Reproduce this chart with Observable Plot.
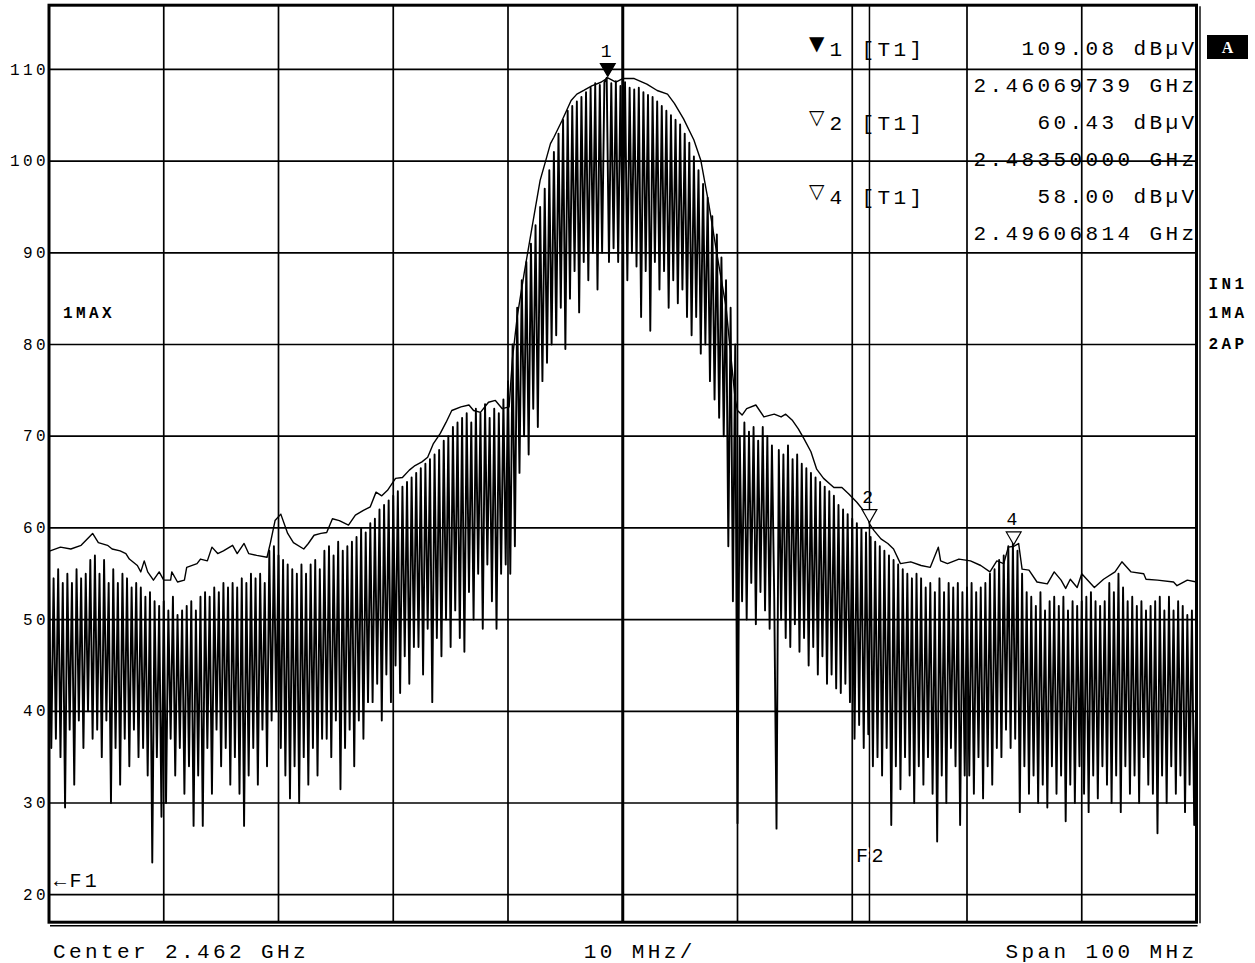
<!DOCTYPE html>
<html>
<head>
<meta charset="utf-8">
<script src="https://cdn.jsdelivr.net/npm/d3@7"></script>
<script src="https://cdn.jsdelivr.net/npm/@observablehq/plot@0.6"></script>
<style>
  html, body { margin: 0; padding: 0; background: #fff; }
</style>
</head>
<body>
<div id="chart"></div>
<script>
// ---------- data ----------
// Trace with rapid spikes: 501 sweep points, 2412..2512 MHz (0.2 MHz bins)
const sweepStartMHz = 2412;
const sweepStepMHz = 0.2;
const spikyTraceDb = [
  55, 36, 54.5, 37, 55.5, 35, 54, 29.5, 55, 38, 54, 32, 55.5, 39, 54.5, 36, 55, 40, 56.5, 37,
  57, 38, 55, 35, 56.5, 39, 54, 30, 55.5, 36, 54, 32, 55, 37, 54.5, 34, 53.5, 38, 54, 35,
  53.5, 36, 52.5, 33, 53, 23.5, 52, 35, 51.5, 28.5, 52, 30, 51, 37, 52.5, 33, 50.5, 36, 51, 31,
  51.5, 34, 52, 27.5, 51, 33, 52.5, 27.5, 53, 36, 52.5, 31, 53.5, 38, 53, 34, 54, 36, 53.5, 32,
  54, 35, 53.5, 31, 54.5, 27.5, 54, 33, 55, 36, 54.5, 32, 55, 38, 54, 34, 57.5, 39, 58, 40,
  57, 36, 56.5, 33, 56, 30.5, 55.5, 34, 55, 30, 56, 35, 55, 32, 56, 36, 56.5, 33, 55.5, 37,
  57.5, 37, 58, 35, 57, 39, 58.5, 31.5, 57.5, 36, 58, 38, 58.5, 34, 59, 39, 60, 37, 59.5, 41,
  60.5, 41, 61, 43, 62, 39, 62.5, 44, 63, 41, 63.5, 45, 64, 42, 64.5, 46, 65, 43, 65.5, 47,
  66, 47, 66.5, 44, 67, 49, 67.5, 41, 68, 48, 68.5, 46, 69.5, 50, 70, 47, 71, 51, 71.5, 48,
  72, 46.5, 72.5, 53, 71.5, 50, 73, 55, 72.5, 49, 73.5, 56, 72, 52, 73, 49, 72.5, 55, 74, 56,
  76, 55, 80, 58, 84, 66, 87, 70, 89, 68, 91, 73, 93, 71, 95, 76, 97, 78, 99, 80,
  101, 81, 103, 84, 104.5, 79.5, 105.5, 85, 106, 88, 106.5, 83.5, 107, 89, 107.5, 87, 108, 90, 108.5, 86,
  108.3, 90, 108.6, 109.08, 89, 108.5, 90.5, 108.7, 89, 108.2, 91, 108.6, 87, 108, 90, 107.8, 88.5, 108, 83, 107.5,
  88, 107.2, 81.5, 107, 89, 106.5, 86, 106, 88, 105.5, 84, 105, 87, 104.5, 84.5, 104, 86, 103, 83, 102,
  81, 100.5, 83, 99, 79, 97.5, 80, 96, 76, 94, 74, 92, 72, 89.5, 70, 87, 58, 84, 52, 80,
  27.8, 70, 52, 71.5, 50, 70.5, 54, 71, 49.5, 69.5, 53, 71, 51, 70, 49, 69, 52.5, 27.2, 68.5, 50,
  68, 48, 69, 47, 67.5, 49.5, 68, 46.5, 67, 48, 66.5, 45, 66, 47, 65.5, 44, 65, 46, 64.5, 43,
  64, 44, 63.5, 42.5, 62.5, 42, 62, 43, 61.5, 41, 61, 37, 60.5, 38.5, 60, 36, 59.5, 37.5, 59, 34,
  58.5, 35, 58, 33, 57.5, 36, 57, 27.6, 56.5, 34, 56, 31.5, 55.5, 35, 55, 33, 54.5, 30, 55, 34,
  54.5, 32, 53.5, 35, 54, 31, 53, 25.8, 54.5, 33, 53, 30, 54, 36, 53.5, 34, 54, 27.6, 53, 33,
  53.5, 33, 54, 31, 53, 35, 53.5, 30.5, 54, 34, 55, 32, 55.5, 36, 56.5, 35, 57, 38, 58, 36,
  58.5, 37, 57.5, 29, 55, 34, 53, 31, 52.5, 33, 51.5, 30, 53, 32, 51, 29.5, 52, 34, 52.5, 31,
  51.5, 33, 52.5, 28, 51, 32, 52, 30, 51.5, 34, 52, 31, 52.5, 29, 53, 33, 52, 30.5, 51.5, 34,
  52, 32, 54, 30, 53, 33, 55, 29, 53.5, 34, 52, 31, 52.5, 33, 51.5, 30, 52, 35, 51, 32,
  51.5, 31, 52, 26.7, 52.5, 33, 51, 30, 52.5, 34, 51, 31, 52, 33, 51.5, 29, 50.5, 32, 51, 27.6, 44
];

// Smooth upper (max hold) trace: frequency (MHz) and level (dBµV)
const envelopeMHz = [
  2412.1, 2413.0, 2413.9, 2414.8, 2415.8, 2416.3, 2417.1, 2417.5, 2418.2, 2418.7, 2419.0, 2419.7, 2420.0,
  2420.3, 2420.6, 2421.1, 2421.6, 2422.0, 2422.6, 2422.7, 2423.2, 2423.8, 2424.0, 2424.9, 2425.2, 2425.8,
  2426.2, 2426.7, 2427.2, 2428.0, 2428.4, 2429.0, 2429.4, 2430.1, 2431.0, 2431.3, 2431.7, 2432.2,
  2432.8, 2433.3, 2434.2, 2434.6, 2435.1, 2435.7, 2436.2, 2436.7, 2437.3, 2438.1, 2438.7, 2439.4, 2440.0,
  2440.5, 2441.0, 2441.5, 2442.2, 2442.8, 2443.4, 2443.9, 2444.5, 2445.0, 2445.5, 2446.1, 2446.6, 2447.1,
  2447.9, 2448.6, 2449.0, 2449.6, 2450.3, 2450.9, 2451.5, 2452.1, 2452.25, 2452.4, 2452.8, 2453.4, 2454.0,
  2454.4, 2454.8, 2455.3, 2455.7, 2456.0, 2456.7, 2457.5, 2458.0, 2458.6, 2459.3, 2460.1, 2460.7, 2461.4,
  2462.0, 2463.0, 2464.1, 2465.0, 2465.9, 2466.5, 2467.3, 2468.2, 2468.8, 2469.5, 2470.2, 2471.0, 2471.4,
  2471.8, 2472.0, 2472.4, 2472.8, 2473.6, 2474.3, 2475.2, 2475.8, 2476.2, 2476.8, 2477.3, 2477.8, 2478.4,
  2478.9, 2479.5, 2480.4, 2481.1, 2481.7, 2482.4, 2483.3, 2483.5, 2483.9, 2484.5, 2485.1, 2485.6, 2486.2,
  2487.1, 2488.0, 2488.8, 2489.5, 2489.7, 2490.3, 2491.3, 2492.3, 2493.2, 2494.0, 2494.6, 2495.2, 2495.6,
  2496.1, 2496.5, 2496.8, 2497.4, 2498.1, 2499.0, 2499.6, 2500.2, 2500.6, 2501.0, 2501.6, 2502.0, 2503.1,
  2503.9, 2504.9, 2505.5, 2506.3, 2507.4, 2507.6, 2508.6, 2510.0, 2510.3, 2511.2, 2512.0
];
const envelopeDb = [
  57.5, 57.9, 57.7, 58.1, 59.4, 58.4, 58.1, 57.7, 57.5, 57.2, 56.6, 55.9, 55.2,
  56.4, 55.2, 54.3, 55.2, 54.3, 54.3, 55.2, 54.1, 54.3, 55.7, 56.1, 56.6, 56.4,
  57.9, 57.2, 57.5, 58.1, 57.2, 58.3, 57.2, 57.0, 56.8, 58.4, 60.8, 61.5,
  59.4, 58.4, 57.7, 58.3, 59.2, 59.4, 59.5, 61.0, 60.8, 60.3, 61.4, 61.9, 62.3,
  63.9, 63.5, 64.1, 65.4, 65.5, 66.3, 66.8, 67.2, 67.7, 69.2, 70.3, 71.5, 72.8,
  73.2, 73.4, 72.8, 72.6, 73.7, 73.9, 73.0, 73.2, 76.0, 78.6, 83.0, 87.7, 92.1,
  95.0, 97.9, 100.1, 101.9, 102.6, 104.4, 106.6, 107.3, 107.7, 108.2, 108.6, 109.08, 108.6,
  109.0, 109.0, 108.4, 107.7, 107.3, 106.3, 104.6, 102.3, 100.1, 95.3, 89.9, 84.1, 79.0,
  74.0, 72.8, 72.3, 73.0, 73.4, 72.1, 72.4, 72.1, 72.4, 71.7, 70.8, 69.7, 68.3,
  66.4, 65.4, 64.4, 64.4, 63.7, 62.8, 61.4, 60.43, 59.7, 58.8, 58.3, 57.7, 56.1,
  56.3, 55.9, 55.7, 57.9, 56.4, 56.1, 56.6, 56.4, 55.9, 55.2, 56.4, 56.1, 57.9,
  58.0, 58.3, 55.5, 55.4, 54.1, 53.9, 55.2, 54.3, 53.4, 54.4, 53.5, 55.0, 53.5,
  54.4, 55.2, 56.3, 55.2, 55.0, 54.4, 54.3, 54.1, 53.7, 54.3, 54.1
];

// Markers
const markerIds = ["1", "2", "4"];
const markerMHz = [2460.69739, 2483.5, 2496.06814];
const markerDb = [109.08, 60.43, 58.00];
const markerSymbols = ["▼", "▽", "▽"];
const markerRowText = ["1 [T1]", "2 [T1]", "4 [T1]"];
const markerReadout = ["109.08 dBµV", "2.46069739 GHz", "60.43 dBµV", "2.48350000 GHz", "58.00 dBµV", "2.49606814 GHz"];

// Axes / grid
const yTicks = [20, 30, 40, 50, 60, 70, 80, 90, 100, 110];
const xGridMHz = [2422, 2432, 2442, 2452, 2472, 2482, 2492, 2502];
const centerMHz = 2462;
const f2MHz = 2483.5;
const spanMHz = [2412, 2512];
const levelRange = [17, 117];

// Texts
const bottomLeft = "Center 2.462 GHz";
const bottomMid = "10 MHz/";
const bottomRight = "Span 100 MHz";
const sideLabels = ["IN1", "1MA", "2AP"];

// ---------- build ----------
const spiky = spikyTraceDb.map((v, i) => ({f: sweepStartMHz + i * sweepStepMHz, v}));
const envelope = envelopeMHz.map((f, i) => ({f, v: envelopeDb[i]}));
const markers = markerIds.map((id, i) => ({id, f: markerMHz[i], v: markerDb[i], filled: i === 0}));

const mono = '"Liberation Mono", "DejaVu Sans Mono", monospace';
const T = (txt, opts) => Plot.text([txt], {text: d => d, lineAnchor: "middle", fill: "#000", ...opts});

const marks = [
  // grid
  Plot.ruleY(yTicks, {x1: spanMHz[0], x2: spanMHz[1], stroke: "#000", strokeWidth: 1.7}),
  Plot.ruleX(xGridMHz, {y1: levelRange[0], y2: levelRange[1], stroke: "#000", strokeWidth: 1.7}),
  Plot.ruleX([centerMHz], {y1: levelRange[0], y2: levelRange[1], stroke: "#000", strokeWidth: 3}),
  Plot.ruleX([f2MHz], {y1: levelRange[0], y2: levelRange[1], stroke: "#000", strokeWidth: 1.5}),
  // traces
  Plot.line(envelope, {x: "f", y: "v", stroke: "#000", strokeWidth: 1.4}),
  Plot.line(spiky, {x: "f", y: "v", stroke: "#000", strokeWidth: 1.9}),
  // frame (with the doubled right and bottom edge)
  Plot.frame({stroke: "#000", strokeWidth: 3}),
  Plot.ruleX([spanMHz[1]], {y1: levelRange[0], y2: levelRange[1], dx: 3.5, dy: 1.5, stroke: "#000", strokeWidth: 1.4}),
  Plot.ruleY([levelRange[0]], {x1: spanMHz[0], x2: spanMHz[1], dy: 3.5, dx: 1.5, stroke: "#000", strokeWidth: 1.4}),
  // y tick labels
  Plot.text(yTicks, {y: d => d, frameAnchor: "left", textAnchor: "end", dx: 0, text: d => `${d}`, fontSize: 16, fill: "#000"}),
  // markers
  Plot.dot(markers, {x: "f", y: "v", symbol: "triangle", rotate: 180, r: 5.5, dy: -10,
    fill: d => d.filled ? "black" : "white", stroke: "black", strokeWidth: 1.2}),
  Plot.text(markers, {x: "f", y: "v", text: "id", dy: -27, fontSize: 18, fill: "#000"}),
  // F1 / F2 labels
  T("F2", {x: f2MHz, frameAnchor: "bottom", dy: -67, dx: 2, fontSize: 20, stroke: "white", strokeWidth: 5, paintOrder: "stroke"}),
  T("←F1", {frameAnchor: "bottom-left", textAnchor: "start", dx: 5, dy: -42, fontSize: 20}),
  // bottom annotations
  T(bottomLeft, {frameAnchor: "bottom-left", textAnchor: "start", dx: 4, dy: 29, fontSize: 21}),
  T(bottomMid, {frameAnchor: "bottom", textAnchor: "start", dx: -39, dy: 29, fontSize: 21}),
  T(bottomRight, {frameAnchor: "bottom-right", textAnchor: "end", dx: 1, dy: 29, fontSize: 21}),
  // trace labels
  T("1MAX", {frameAnchor: "top-left", textAnchor: "start", dx: 14, dy: 307.3, fontSize: 16, fontWeight: "bold"}),
  ...sideLabels.map((s, k) => T(s, {frameAnchor: "top-right", textAnchor: "start", dx: 12, dy: [278.3, 307.3, 338.3][k], fontSize: 16, fontWeight: "bold"})),
  // marker table
  ...markerReadout.map((s, k) => T(s, {frameAnchor: "top-right", textAnchor: "end", dx: 1, dy: 42.8 + 37 * k, fontSize: 21})),
  ...markerRowText.map((s, k) => T(s, {frameAnchor: "top-right", textAnchor: "start", dx: -367, dy: 43.8 + 74 * k, fontSize: 21})),
  ...markerSymbols.map((s, k) => T(s, {frameAnchor: "top-right", textAnchor: "middle", dx: -378, dy: 38 + 74 * k, fontSize: 20, fontFamily: "DejaVu Sans"}))
];

const chart = Plot.plot({
  width: 1255,
  height: 963,
  marginLeft: 48.5,
  marginRight: 59,
  marginTop: 4.7,
  marginBottom: 41.3,
  x: {domain: spanMHz, axis: null},
  y: {domain: levelRange, axis: null},
  style: {fontFamily: mono, letterSpacing: "3.4px", background: "#fff", color: "#000", overflow: "visible"},
  marks
});

// "A" badge at the top right
const svg = d3.select(chart);
const badge = svg.append("g");
badge.append("rect").attr("x", 1207).attr("y", 35).attr("width", 41).attr("height", 24).attr("fill", "#000");
badge.append("text").attr("x", 1227.5).attr("y", 47).attr("dy", "0.35em").attr("text-anchor", "middle")
  .attr("fill", "#fff").attr("font-weight", "bold").attr("font-size", 16).attr("font-family", "Liberation Serif")
  .style("letter-spacing", "0px").text("A");

document.getElementById("chart").appendChild(chart);
</script>
</body>
</html>
